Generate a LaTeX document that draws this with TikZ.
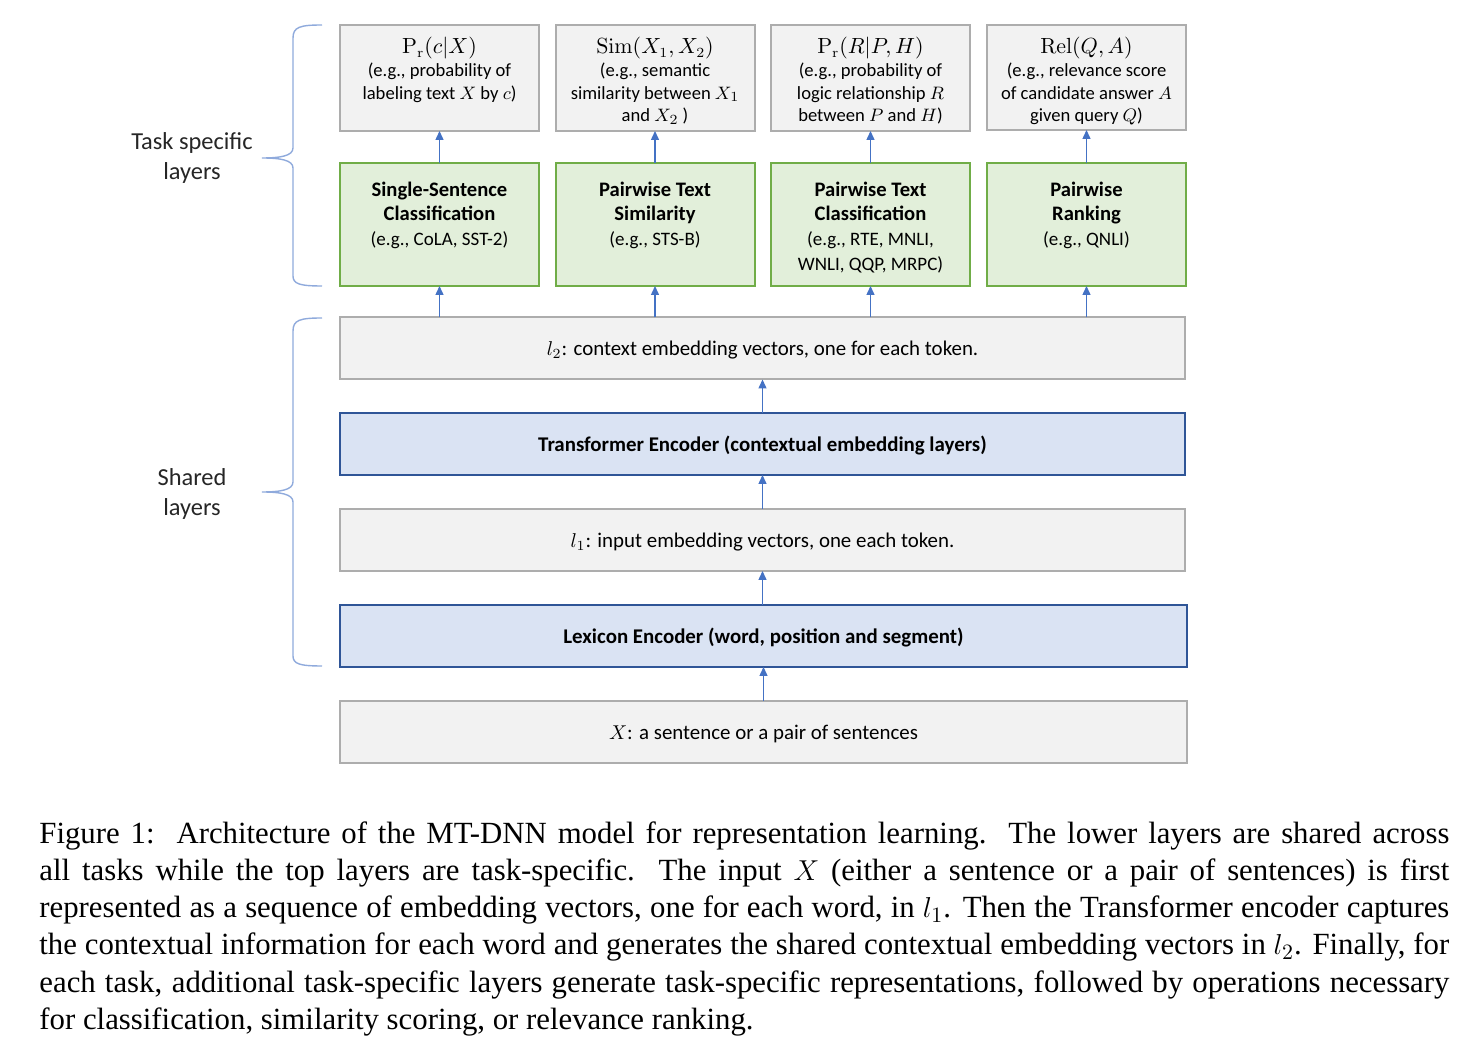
\documentclass[tikz,border=0pt]{standalone}
\usepackage[no-math]{fontspec}
\setmainfont{Carlito}
\newfontfamily\capfont{Liberation Serif}
\usetikzlibrary{arrows.meta,calc}
\definecolor{grayfill}{HTML}{F2F2F2}
\definecolor{grayline}{HTML}{ADADAD}
\definecolor{greenfill}{HTML}{E2EFDA}
\definecolor{greenline}{HTML}{70AD47}
\definecolor{bluefill}{HTML}{DAE3F3}
\definecolor{blueline}{HTML}{2F5597}
\definecolor{arrowc}{HTML}{4472C4}
\definecolor{bracec}{HTML}{8FAADC}
\newcommand{\mlab}[1]{{\fontsize{10.6}{11.3}\selectfont$#1$}}
\newcommand{\bl}[1]{{\fontsize{10.3}{12.5}\selectfont\bfseries #1}}
\begin{document}
\begin{tikzpicture}[x=0.5pt,y=-0.5pt,
  base/.style={inner sep=0pt, outer sep=0pt},
  graybox/.style={base, draw=grayline, fill=grayfill, line width=1pt, minimum width=99.5pt},
  greenbox/.style={base, draw=greenline, fill=greenfill, line width=1pt, minimum width=99.5pt, minimum height=61.5pt},
  widebox/.style={base, draw=grayline, fill=grayfill, line width=1pt, minimum height=31pt},
  bluebox/.style={base, draw=blueline, fill=bluefill, line width=1.2pt, minimum height=31pt},
  toptext/.style={base, anchor=north, align=center, font=\fontsize{9.3}{11.3}\selectfont},
  greentext/.style={base, anchor=north, align=center, font=\fontsize{9.5}{12.3}\selectfont},
  widetext/.style={font=\fontsize{10.45}{12}\selectfont, yshift=-1pt},
  sidelabel/.style={align=center, font=\fontsize{12.2}{15}\selectfont, text=black!85},
  arr/.style={draw=arrowc, line width=0.7pt, -{Triangle[width=4pt,length=4.5pt]}},
  bracepath/.style={draw=bracec, line width=0.7pt},
  capline/.style={anchor=base west, inner sep=0pt, font=\capfont\fontsize{15.4}{18.5}\selectfont}
]
\useasboundingbox (0,0) rectangle (1474,1052);

% top output boxes
\node[graybox, minimum height=53pt] (t1) at (439.5,78) {};
\node[graybox, minimum height=53pt] (t2) at (655,78) {};
\node[graybox, minimum height=53pt] (t3) at (870.5,78) {};
\node[graybox, minimum height=52.5pt] (t4) at (1086.5,77.5) {};
\node[toptext] (t1x) at ([yshift=-6.2pt]t1.north) {\mlab{\mathrm{P}_{\mathrm{r}}(c|X)}\\(e.g., probability of\\labeling text $X$ by $c$)};
\node[toptext] (t2x) at ([yshift=-6.2pt]t2.north) {\mlab{\mathrm{Sim}(X_1,X_2)}\\(e.g., semantic\\similarity between $X_1$\\and $X_2$ )};
\node[toptext] (t3x) at ([yshift=-6.2pt]t3.north) {\mlab{\mathrm{P}_{\mathrm{r}}(R|P,H)}\\(e.g., probability of\\logic relationship $R$\\between $P$ and $H$)};
\node[toptext] (t4x) at ([yshift=-6.2pt]t4.north) {\mlab{\mathrm{Rel}(Q,A)}\\(e.g., relevance score\\of candidate answer $A$\\given query $Q$)};

% task-specific boxes
\node[greenbox] (g1) at (439.5,224.5) {};
\node[greenbox] (g2) at (655,224.5) {};
\node[greenbox] (g3) at (870.5,224.5) {};
\node[greenbox] (g4) at (1086.5,224.5) {};
\node[greentext] (g1x) at ([yshift=-9.4pt]g1.north) {\bl{Single-Sentence}\\\bl{Classification}\\(e.g., CoLA, SST-2)};
\node[greentext] (g2x) at ([yshift=-9.4pt]g2.north) {\bl{Pairwise Text}\\\bl{Similarity}\\(e.g., STS-B)};
\node[greentext] (g3x) at ([yshift=-9.4pt]g3.north) {\bl{Pairwise Text}\\\bl{Classification}\\(e.g., RTE, MNLI,\\WNLI, QQP, MRPC)};
\node[greentext] (g4x) at ([yshift=-9.4pt]g4.north) {\bl{Pairwise}\\\bl{Ranking}\\(e.g., QNLI)};

% shared layers
\node[widebox, minimum width=422.5pt] (l2) at (762.5,348.5) {};
\node[widetext] at (l2.center) {$l_2$: context embedding vectors, one for each token.};
\node[bluebox, minimum width=422.5pt] (tr) at (762.5,444) {};
\node[widetext] at (tr.center) {\textbf{Transformer Encoder (contextual embedding layers)}};
\node[widebox, minimum width=422.5pt] (l1) at (762.5,540) {};
\node[widetext] at (l1.center) {$l_1$: input embedding vectors, one each token.};
\node[bluebox, minimum width=423.5pt] (lex) at (763.5,636) {};
\node[widetext] at (lex.center) {\textbf{Lexicon Encoder (word, position and segment)}};
\node[widebox, minimum width=423.5pt] (xin) at (763.5,732) {};
\node[widetext] at (xin.center) {$X$: a sentence or a pair of sentences};

% arrows
\foreach \i in {1,2,3,4} {
  \draw[arr] (g\i.north) -- (t\i.south);
  \draw[arr] (l2.north -| g\i.south) -- (g\i.south);
}
\draw[arr] (tr.north) -- (l2.south);
\draw[arr] (l1.north) -- (tr.south);
\draw[arr] (lex.north -| l1.south) -- (l1.south);
\draw[arr] (xin.north) -- (lex.south);

% braces
\draw[bracepath] (322,25) .. controls (300,25) and (293,27) .. (293,38) -- (293,148)
  .. controls (293,156) and (280,158) .. (262,158)
  .. controls (280,158) and (293,160) .. (293,168) -- (293,276)
  .. controls (293,284) and (300,286) .. (322,286);
\draw[bracepath] (322,318) .. controls (300,318) and (293,320) .. (293,331) -- (293,482)
  .. controls (293,490) and (280,492) .. (262,492)
  .. controls (280,492) and (293,494) .. (293,502) -- (293,656)
  .. controls (293,664) and (300,666) .. (322,666);
\node[sidelabel] (tsl) at (192,158) {Task specific\\layers};
\node[sidelabel] (shl) at (192,494) {Shared\\layers};

% caption
\node[capline] (c1) at (39,844) {\makebox[705pt][s]{Figure 1:\ \ Architecture of the MT-DNN model for representation learning.\ \ The lower layers are shared across}};
\node[capline] (c2) at (39,881) {\makebox[705pt][s]{all tasks while the top layers are task-specific.\ \ The input $X$ (either a sentence or a pair of sentences) is first}};
\node[capline] (c3) at (39,918) {\makebox[705pt][s]{represented as a sequence of embedding vectors, one for each word, in $l_1$. Then the Transformer encoder captures}};
\node[capline] (c4) at (39,955) {\makebox[705pt][s]{the contextual information for each word and generates the shared contextual embedding vectors in $l_2$. Finally, for}};
\node[capline] (c5) at (39,993) {\makebox[705pt][s]{each task, additional task-specific layers generate task-specific representations, followed by operations necessary}};
\node[capline] (c6) at (39,1030) {for classification, similarity scoring, or relevance ranking.};
\end{tikzpicture}
\end{document}
